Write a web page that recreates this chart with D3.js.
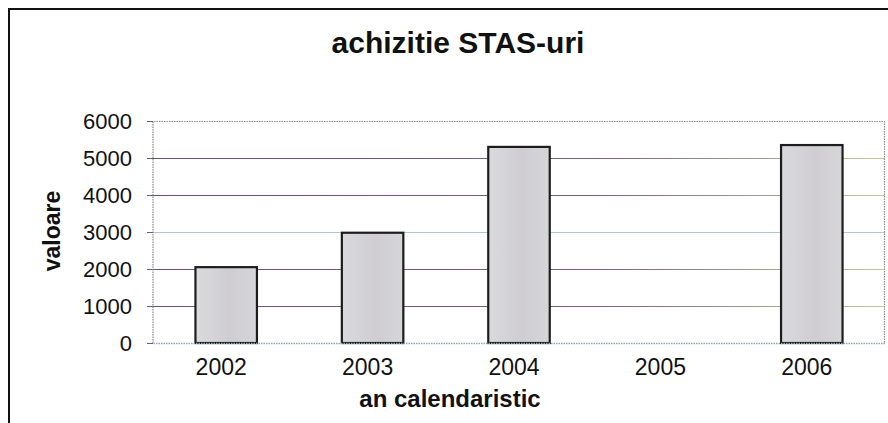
<!DOCTYPE html>
<html>
<head>
<meta charset="utf-8">
<script src="https://cdn.jsdelivr.net/npm/d3@7"></script>
<style>
  body { margin: 0; background: #fff; }
  svg text { font-family: "Liberation Sans", Arial, sans-serif; fill: #111; }
</style>
</head>
<body>
<div id="chart"></div>
<script>
// data
let years = ["2002", "2003", "2004", "2005", "2006"];
let values = [2050, 2980, 5300, null, 5350];
let yTicks = [0, 1000, 2000, 3000, 4000, 5000, 6000];

let chartTitle = "achizitie STAS-uri";
let yTitle = "valoare";
let xTitle = "an calendaristic";

function drawChart(width, height, selector) {

  let datapoints = years.map((y, i) => ({ year: y, value: values[i] }));

  let margin = { top: 121, left: 153, right: 3, bottom: 80 };
  let chartWidth = width - margin.left - margin.right;
  let chartHeight = height - margin.top - margin.bottom;

  let svg = d3.select(selector)
    .append("svg")
    .attr("width", width)
    .attr("height", height);

  let defs = svg.append("defs");

  // scanned look: grey bars, grid lines drifting from purple to yellow
  let barGrad = defs.append("linearGradient")
    .attr("id", "bar-fill")
    .attr("x1", "0").attr("x2", "1").attr("y1", "0").attr("y2", "0");
  barGrad.append("stop").attr("offset", "0%").attr("stop-color", "#dadadc");
  barGrad.append("stop").attr("offset", "55%").attr("stop-color", "#cfcdd2");
  barGrad.append("stop").attr("offset", "100%").attr("stop-color", "#d6d6d8");

  let gridGrad = defs.append("linearGradient")
    .attr("id", "grid-stroke")
    .attr("gradientUnits", "userSpaceOnUse")
    .attr("x1", 0).attr("x2", chartWidth).attr("y1", 0).attr("y2", 0);
  gridGrad.append("stop").attr("offset", "0%").attr("stop-color", "#6e4c7c");
  gridGrad.append("stop").attr("offset", "60%").attr("stop-color", "#7a5f80");
  gridGrad.append("stop").attr("offset", "100%").attr("stop-color", "#c8c89a");

  // outer frame (top and left edges visible)
  svg.append("line")
    .attr("x1", 8).attr("x2", width).attr("y1", 9).attr("y2", 9)
    .attr("stroke", "#111").attr("stroke-width", 2);
  svg.append("line")
    .attr("x1", 9).attr("x2", 9).attr("y1", 8).attr("y2", height)
    .attr("stroke", "#111").attr("stroke-width", 2);

  let chart = svg.append("g")
    .attr("transform", "translate(" + margin.left + "," + margin.top + ")");

  let xPositionScale = d3.scaleBand()
    .domain(years)
    .range([0, chartWidth])
    .paddingInner(0.58)
    .paddingOuter(0.29);

  let yPositionScale = d3.scaleLinear()
    .domain([0, 6000])
    .range([chartHeight, 0]);

  // grid lines
  chart.append("g")
    .selectAll("line")
    .data(yTicks.filter(d => d > 0 && d < 6000))
    .join("line")
    .attr("x1", 0)
    .attr("x2", chartWidth)
    .attr("y1", d => Math.round(yPositionScale(d)) + 0.5)
    .attr("y2", d => Math.round(yPositionScale(d)) + 0.5)
    .attr("stroke", d => d === 3000 ? "#a9cdd2" : "url(#grid-stroke)")
    .attr("stroke-width", 1.2);

  // plot area border, dotted
  chart.append("path")
    .attr("d", `M0,${chartHeight}V0.5H${chartWidth - 0.5}V${chartHeight}`)
    .attr("fill", "none")
    .attr("stroke", "#8a8a8a")
    .attr("stroke-width", 1.2)
    .attr("stroke-dasharray", "1.5,1");

  // bars
  chart.append("g")
    .selectAll("rect")
    .data(datapoints.filter(d => d.value !== null))
    .join("rect")
    .attr("x", d => xPositionScale(d.year))
    .attr("y", d => yPositionScale(d.value))
    .attr("width", xPositionScale.bandwidth())
    .attr("height", d => chartHeight - yPositionScale(d.value))
    .attr("fill", "url(#bar-fill)")
    .attr("stroke", "#1d1d1d")
    .attr("stroke-width", 2.2);

  // y axis
  let yAxis = d3.axisLeft(yPositionScale)
    .tickValues(yTicks)
    .tickFormat(d3.format("d"))
    .tickSize(6)
    .tickPadding(15);

  let yAxisG = chart.append("g")
    .attr("class", "axis y-axis")
    .call(yAxis);
  yAxisG.select(".domain").remove();
  yAxisG.selectAll(".tick line").attr("stroke", "#6e5a78");
  yAxisG.selectAll(".tick text")
    .style("font-size", "22px")
    .attr("fill", "#111");

  // x axis
  let xAxis = d3.axisBottom(xPositionScale)
    .tickSize(0)
    .tickPadding(16);

  let xAxisG = chart.append("g")
    .attr("class", "axis x-axis")
    .attr("transform", "translate(0," + chartHeight + ")")
    .call(xAxis);
  xAxisG.select(".domain")
    .attr("stroke", "#8fa6b4")
    .attr("stroke-width", 1.3)
    .attr("stroke-dasharray", "1.5,1");
  xAxisG.selectAll(".tick text")
    .style("font-size", "23px")
    .attr("dx", -5)
    .attr("fill", "#111");

  // titles
  svg.append("text")
    .attr("x", 458)
    .attr("y", 53)
    .attr("text-anchor", "middle")
    .style("font-size", "30px")
    .style("font-weight", "bold")
    .text(chartTitle);

  svg.append("text")
    .attr("transform", "translate(60,231) rotate(-90)")
    .attr("text-anchor", "middle")
    .style("font-size", "23px")
    .style("font-weight", "bold")
    .text(yTitle);

  svg.append("text")
    .attr("x", 450)
    .attr("y", 407)
    .attr("text-anchor", "middle")
    .style("font-size", "24px")
    .style("font-weight", "bold")
    .text(xTitle);
}

drawChart(888, 423, "#chart");
</script>
</body>
</html>
